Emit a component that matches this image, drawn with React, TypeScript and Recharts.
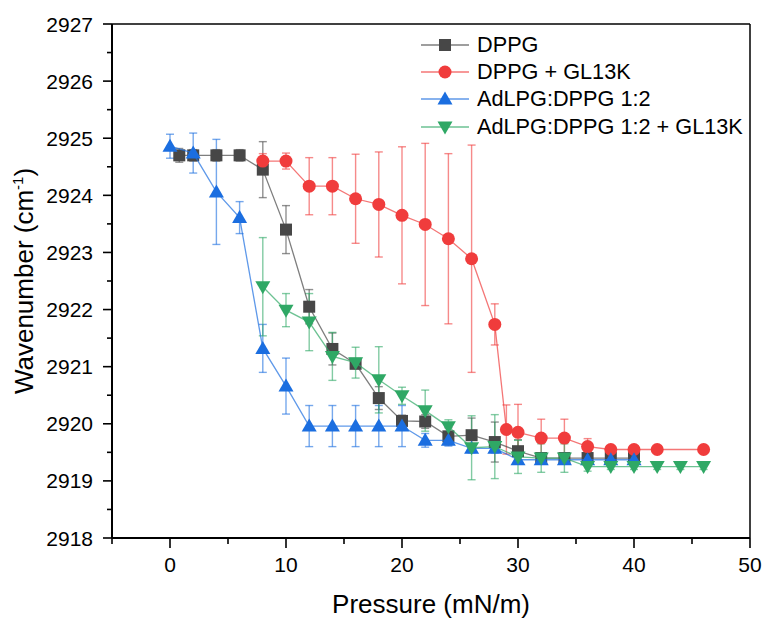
import React from 'react'
import { ComposedChart, Scatter, XAxis, YAxis, ErrorBar, ReferenceLine, Label, Legend } from 'recharts'

const FONT = '"Liberation Sans", Arial, sans-serif'

// pressure (mN/m), wavenumber (cm-1) and error (+/-) per series
const dppgP = [0.8, 2, 4, 6, 8, 10, 12, 14, 16, 18, 20, 22, 24, 26, 28, 30, 32, 34, 36, 38, 40]
const dppgV = [2924.7, 2924.7, 2924.7, 2924.7, 2924.45, 2923.4, 2922.05, 2921.31, 2921.05, 2920.45, 2920.05, 2920.04, 2919.78, 2919.8, 2919.68, 2919.52, 2919.4, 2919.4, 2919.4, 2919.4, 2919.4]
const dppgE = [0.12, 0.1, 0.1, 0.1, 0.49, 0.42, 0.3, 0.28, 0.08, 0.2, 0.1, 0.12, 0.15, 0.3, 0.35, 0.2, 0.05, 0.05, 0.05, 0.05, 0.05]

const glP = [8, 10, 12, 14, 16, 18, 20, 22, 24, 26, 28, 29, 30, 32, 34, 36, 38, 40, 42, 46]
const glV = [2924.6, 2924.6, 2924.16, 2924.16, 2923.94, 2923.84, 2923.65, 2923.49, 2923.24, 2922.89, 2921.74, 2919.9, 2919.85, 2919.75, 2919.75, 2919.6, 2919.55, 2919.55, 2919.55, 2919.55]
const glE = [0.13, 0.14, 0.5, 0.5, 0.78, 0.92, 1.2, 1.42, 1.49, 1.99, 0.36, 0.43, 0.49, 0.33, 0.33, 0.14, 0.03, 0.03, 0.03, 0.03]

const adP = [0, 2, 4, 6, 8, 10, 12, 14, 16, 18, 20, 22, 24, 26, 28, 30, 32, 34, 36, 38, 40]
const adV = [2924.86, 2924.74, 2924.06, 2923.61, 2921.32, 2920.66, 2919.96, 2919.96, 2919.96, 2919.96, 2919.96, 2919.71, 2919.71, 2919.57, 2919.57, 2919.37, 2919.37, 2919.37, 2919.37, 2919.37, 2919.37]
const adE = [0.21, 0.35, 0.92, 0.28, 0.42, 0.49, 0.36, 0.36, 0.36, 0.36, 0.36, 0.12, 0.1, 0.08, 0.08, 0.06, 0.06, 0.06, 0.06, 0.06, 0.06]

const adGlP = [8, 10, 12, 14, 16, 18, 20, 22, 24, 26, 28, 30, 32, 34, 36, 38, 40, 42, 44, 46]
const adGlV = [2922.4, 2921.99, 2921.78, 2921.18, 2921.07, 2920.77, 2920.49, 2920.23, 2919.95, 2919.58, 2919.6, 2919.42, 2919.4, 2919.4, 2919.25, 2919.25, 2919.25, 2919.25, 2919.25, 2919.25]
const adGlE = [0.86, 0.29, 0.5, 0.42, 0.27, 0.58, 0.15, 0.36, 0.12, 0.56, 0.56, 0.29, 0.25, 0.25, 0.08, 0.05, 0.05, 0.05, 0.05, 0.05]

const xTicks = [-5, 0, 5, 10, 15, 20, 25, 30, 35, 40, 45, 50]
const yTicks = [2918, 2918.5, 2919, 2919.5, 2920, 2920.5, 2921, 2921.5, 2922, 2922.5, 2923, 2923.5, 2924, 2924.5, 2925, 2925.5, 2926, 2926.5, 2927]

type Kind = 'square' | 'circle' | 'up' | 'down'

const zip = (p: number[], v: number[], e: number[]) => p.map((x, i) => ({ p: x, v: v[i], e: e[i] }))

const SERIES = [
  { name: 'DPPG',                   data: zip(dppgP, dppgV, dppgE),   color: '#474747', kind: 'square' as Kind },
  { name: 'DPPG + GL13K',           data: zip(glP, glV, glE),         color: '#f03c3c', kind: 'circle' as Kind },
  { name: 'AdLPG:DPPG 1:2',         data: zip(adP, adV, adE),         color: '#1b6ee0', kind: 'up' as Kind },
  { name: 'AdLPG:DPPG 1:2 + GL13K', data: zip(adGlP, adGlV, adGlE),   color: '#2fa865', kind: 'down' as Kind },
]

function Marker({ kind, cx, cy, fill }: { kind: Kind; cx: number; cy: number; fill: string }) {
  if (cx == null || cy == null) return null
  switch (kind) {
    case 'square':
      return <rect x={cx - 6} y={cy - 6} width={12} height={12} fill={fill} />
    case 'circle':
      return <circle cx={cx} cy={cy} r={6.5} fill={fill} />
    case 'up':
      return <path d={`M${cx},${cy - 7.5}L${cx + 7.5},${cy + 5.5}L${cx - 7.5},${cy + 5.5}Z`} fill={fill} />
    default:
      return <path d={`M${cx},${cy + 7.5}L${cx + 7.5},${cy - 5.5}L${cx - 7.5},${cy - 5.5}Z`} fill={fill} />
  }
}

const YTick = ({ x, y, payload }: any) => {
  const major = Number.isInteger(payload.value)
  return (
    <g>
      <line x1={x - (major ? 9 : 5)} x2={x} y1={y} y2={y} stroke="#000" strokeWidth={1.6} />
      {major && (
        <text x={x - 19} y={y} dy={7.5} textAnchor="end" fontSize={21} fontFamily={FONT} fill="#000">
          {payload.value}
        </text>
      )}
    </g>
  )
}

const XTick = ({ x, y, payload }: any) => {
  const major = payload.value % 10 === 0
  return (
    <g>
      <line x1={x} x2={x} y1={y} y2={y + (major ? 10 : 6)} stroke="#000" strokeWidth={1.6} />
      {major && (
        <text x={x} y={y + 34} textAnchor="middle" fontSize={21} fontFamily={FONT} fill="#000">
          {payload.value}
        </text>
      )}
    </g>
  )
}

const LegendBox = () => (
  <div style={{ fontFamily: FONT, fontSize: 21.7, color: '#000' }}>
    {SERIES.map(s => (
      <div key={s.name} style={{ display: 'flex', alignItems: 'center', height: 27.3 }}>
        <svg width={49} height={20} style={{ display: 'block' }}>
          <line x1={0} x2={48} y1={10} y2={10} stroke={s.color} strokeOpacity={0.7} strokeWidth={1.3} />
          <Marker kind={s.kind} cx={24} cy={10} fill={s.color} />
        </svg>
        <span style={{ marginLeft: 7, whiteSpace: 'nowrap', lineHeight: 1 }}>{s.name}</span>
      </div>
    ))}
  </div>
)

export default function App() {
  return (
    <div style={{ position: 'absolute', left: 0, top: 0, background: '#fff' }}>
      <ComposedChart width={765} height={618} margin={{ top: 24, right: 15, bottom: 0, left: 0 }}>
        <XAxis
          type="number"
          dataKey="p"
          domain={[-5, 50]}
          ticks={xTicks}
          interval={0}
          height={80}
          tickSize={0}
          tickMargin={0}
          tickLine={false}
          tick={<XTick />}
          axisLine={{ stroke: '#000', strokeWidth: 2 }}
          allowDataOverflow
        >
          <Label
            content={({ viewBox }: any) => (
              <text
                x={viewBox.x + viewBox.width / 2}
                y={viewBox.y + 75}
                textAnchor="middle"
                fontSize={26}
                fontFamily={FONT}
                fill="#000"
              >
                Pressure (mN/m)
              </text>
            )}
          />
        </XAxis>
        <YAxis
          type="number"
          dataKey="v"
          domain={[2918, 2927]}
          ticks={yTicks}
          interval={0}
          width={112}
          tickSize={0}
          tickMargin={0}
          tickLine={false}
          tick={<YTick />}
          axisLine={{ stroke: '#000', strokeWidth: 2 }}
          allowDataOverflow
        >
          <Label
            content={({ viewBox }: any) => {
              const cx = 33
              const cy = viewBox.y + viewBox.height / 2
              return (
                <text
                  x={cx}
                  y={cy}
                  transform={`rotate(-90, ${cx}, ${cy})`}
                  textAnchor="middle"
                  fontSize={26}
                  fontFamily={FONT}
                  fill="#000"
                >
                  Wavenumber (cm
                  <tspan dy={-10} fontSize={15}>-1</tspan>
                  <tspan dy={10}>)</tspan>
                </text>
              )
            }}
          />
        </YAxis>
        <ReferenceLine y={2927} stroke="#000" strokeWidth={1.5} />
        <ReferenceLine x={50} stroke="#000" strokeWidth={1.5} />
        {SERIES.map(s => (
          <Scatter
            key={s.name}
            name={s.name}
            data={s.data}
            fill={s.color}
            line={{ stroke: s.color, strokeOpacity: 0.7, strokeWidth: 1.3 }}
            shape={(props: any) => <Marker kind={s.kind} cx={props.cx} cy={props.cy} fill={s.color} />}
            isAnimationActive={false}
          >
            <ErrorBar dataKey="e" direction="y" width={4} stroke={s.color} strokeOpacity={0.6} strokeWidth={1.4} />
          </Scatter>
        ))}
        <Legend
          layout="vertical"
          align="center"
          verticalAlign="middle"
          wrapperStyle={{ top: 31, left: 421, width: 330, height: 112 }}
          content={() => <LegendBox />}
        />
      </ComposedChart>
    </div>
  )
}
